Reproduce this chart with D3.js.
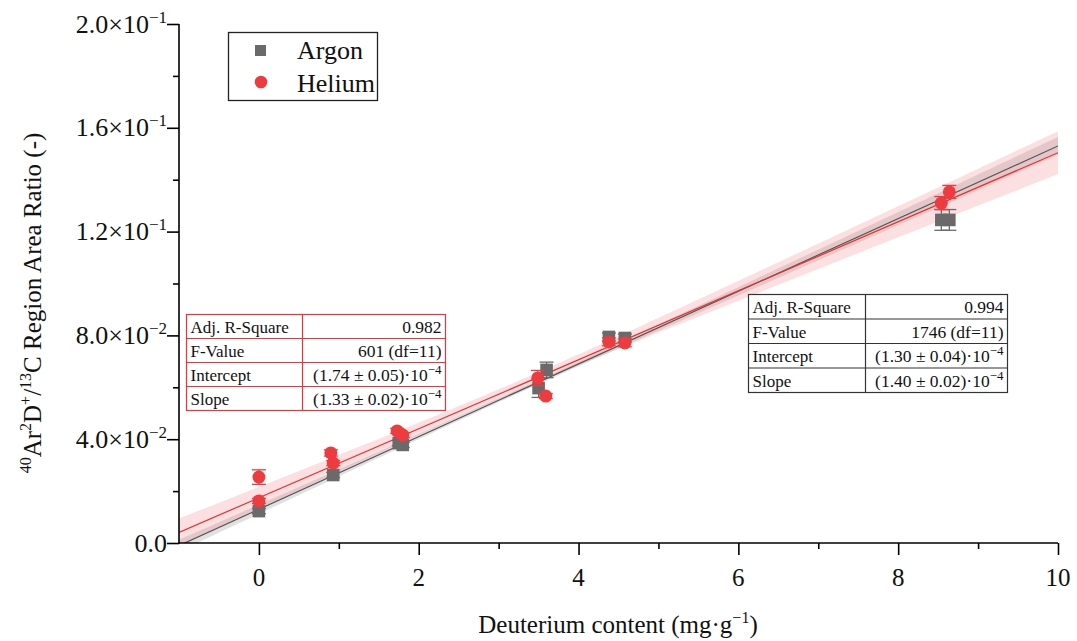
<!DOCTYPE html>
<html>
<head>
<meta charset="utf-8">
<script src="https://cdn.jsdelivr.net/npm/d3@7"></script>
<style>
  html, body { margin: 0; padding: 0; background: #fff; }
  svg { display: block; font-family: "Liberation Serif", "Times New Roman", serif; }
</style>
</head>
<body>
<svg id="chart" width="1077" height="641"></svg>
<script>
// ---- data -------------------------------------------------------------
const argonX   = [0.00, 0.93, 1.75, 1.80, 3.50, 3.60, 4.38, 4.58, 8.54, 8.64];
const argonY   = [0.0123, 0.0262, 0.0385, 0.0378, 0.0597, 0.0667, 0.0794, 0.0790, 0.1245, 0.1245];
const argonErr = [0.0010, 0.0010, 0.0010, 0.0010, 0.0036, 0.0030, 0.0015, 0.0015, 0.0040, 0.0040];

const heliumX   = [0.00, 0.00, 0.90, 0.93, 1.73, 1.80, 3.49, 3.59, 4.38, 4.58, 8.54, 8.64];
const heliumY   = [0.0162, 0.0254, 0.0347, 0.0308, 0.0432, 0.0416, 0.0636, 0.0566, 0.0775, 0.0771, 0.1310, 0.1353];
const heliumErr = [0.0010, 0.0028, 0.0012, 0.0010, 0.0010, 0.0010, 0.0029, 0.0010, 0.0015, 0.0015, 0.0025, 0.0025];

// linear fit results (table values, in units of 10^-4)
const fitNames      = ["Argon", "Helium"];
const fitAdjR2      = ["0.994", "0.982"];
const fitF          = ["1746 (df=11)", "601 (df=11)"];
const fitIntercept  = [1.30, 1.74];
const fitInterceptE = [0.04, 0.05];
const fitSlope      = [1.40, 1.33];
const fitSlopeE     = [0.02, 0.02];
const fitToAxis     = 100 * 1e-4;   // table units -> plotted ratio units

// 95% confidence band: half-width sqrt(a^2 + b^2 (x - xc)^2)
const bandA  = [0.0008, 0.0019];
const bandB  = [0.00050, 0.00118];
const bandXc = [3.2, 3.2];

// axes
const xDomain = [-1, 10];
const yDomain = [0, 0.2];
const xTicks = [0, 2, 4, 6, 8, 10];
const xMinorTicks = [-1, 1, 3, 5, 7, 9];
const yTicks = [0, 0.04, 0.08, 0.12, 0.16, 0.20];
const yTickMantissa = ["0.0", "4.0", "8.0", "1.2", "1.6", "2.0"];
const yTickExp      = [null, "-2", "-2", "-1", "-1", "-1"];
const yMinorTicks = [0.02, 0.06, 0.10, 0.14, 0.18];

const colArgon = "#6a6a6a";
const colHelium = "#ee3b3f";

// ---- layout -----------------------------------------------------------
const svg = d3.select("#chart");
const x = d3.scaleLinear().domain(xDomain).range([179, 1058]);
const y = d3.scaleLinear().domain(yDomain).range([543, 24]);

svg.append("defs").append("clipPath").attr("id", "plotClip")
  .append("rect").attr("x", 179).attr("y", 24).attr("width", 879).attr("height", 519);

const plot = svg.append("g").attr("clip-path", "url(#plotClip)");

// confidence bands and fit lines
const bandCols = ["rgba(120,120,120,0.22)", "rgba(240,110,120,0.22)"];
const lineCols = ["#555555", "#e8302f"];
const xs = d3.range(0, 201).map(i => xDomain[0] + (xDomain[1] - xDomain[0]) * i / 200);
[0, 1].forEach(k => {
  const b0 = fitIntercept[k] * fitToAxis, b1 = fitSlope[k] * fitToAxis;
  const hw = v => Math.sqrt(bandA[k] ** 2 + (bandB[k] * (v - bandXc[k])) ** 2);
  plot.append("path")
    .datum(xs)
    .attr("fill", bandCols[k])
    .attr("d", d3.area()
      .x(v => x(v))
      .y0(v => y(b0 + b1 * v - hw(v)))
      .y1(v => y(b0 + b1 * v + hw(v))));
});
[0, 1].forEach(k => {
  const b0 = fitIntercept[k] * fitToAxis, b1 = fitSlope[k] * fitToAxis;
  plot.append("line")
    .attr("x1", x(xDomain[0])).attr("y1", y(b0 + b1 * xDomain[0]))
    .attr("x2", x(xDomain[1])).attr("y2", y(b0 + b1 * xDomain[1]))
    .attr("stroke", lineCols[k]).attr("stroke-width", 1.2);
});

// error bars + markers
function drawSeries(xv, yv, ev, color, kind) {
  const g = svg.append("g");
  const pts = xv.map((d, i) => ({ x: d, y: yv[i], e: ev[i] }));
  const eb = g.selectAll("g.eb").data(pts).join("g").attr("stroke", color).attr("stroke-width", 1.3);
  eb.append("line").attr("x1", d => x(d.x)).attr("x2", d => x(d.x))
    .attr("y1", d => y(d.y - d.e)).attr("y2", d => y(d.y + d.e));
  eb.append("line").attr("x1", d => x(d.x) - 7).attr("x2", d => x(d.x) + 7)
    .attr("y1", d => y(d.y - d.e)).attr("y2", d => y(d.y - d.e));
  eb.append("line").attr("x1", d => x(d.x) - 7).attr("x2", d => x(d.x) + 7)
    .attr("y1", d => y(d.y + d.e)).attr("y2", d => y(d.y + d.e));
  if (kind === "square") {
    g.selectAll("rect.m").data(pts).join("rect")
      .attr("x", d => x(d.x) - 6.3).attr("y", d => y(d.y) - 6.3)
      .attr("width", 12.6).attr("height", 12.6).attr("fill", color);
  } else {
    g.selectAll("circle.m").data(pts).join("circle")
      .attr("cx", d => x(d.x)).attr("cy", d => y(d.y)).attr("r", 6.5).attr("fill", color);
  }
}
drawSeries(argonX, argonY, argonErr, colArgon, "square");
drawSeries(heliumX, heliumY, heliumErr, colHelium, "circle");

// ---- axes -------------------------------------------------------------
const axisG = svg.append("g").attr("stroke", "#000").attr("stroke-width", 1.6);
axisG.append("line").attr("x1", 179).attr("x2", 179).attr("y1", y(0.2)).attr("y2", y(0) + 0.8);
axisG.append("line").attr("x1", 178.2).attr("x2", x(10)).attr("y1", y(0)).attr("y2", y(0));

const yAxis = svg.append("g").attr("transform", "translate(179,0)")
  .call(d3.axisLeft(y).tickValues(yTicks).tickSize(12).tickFormat(""));
const yMinor = svg.append("g").attr("transform", "translate(179,0)")
  .call(d3.axisLeft(y).tickValues(yMinorTicks).tickSize(6).tickFormat(""));
const xAxis = svg.append("g").attr("transform", `translate(0,${y(0)})`)
  .call(d3.axisBottom(x).tickValues(xTicks).tickSize(12).tickFormat(""));
const xMinor = svg.append("g").attr("transform", `translate(0,${y(0)})`)
  .call(d3.axisBottom(x).tickValues(xMinorTicks.filter(v => v > xDomain[0])).tickSize(6).tickFormat(""));
[yAxis, yMinor, xAxis, xMinor].forEach(a => {
  a.select(".domain").remove();
  a.selectAll("line").attr("stroke", "#000").attr("stroke-width", 1.6);
});

// y tick labels with scientific notation
yTicks.forEach((v, i) => {
  const t = svg.append("text")
    .attr("x", 167).attr("y", y(v) + 8.5)
    .attr("text-anchor", "end").attr("font-size", 26).attr("fill", "#111");
  if (yTickExp[i] === null) {
    t.text(yTickMantissa[i]);
  } else {
    t.append("tspan").text(yTickMantissa[i] + "\u00d710");
    t.append("tspan").attr("font-size", 17).attr("dy", -10).text(yTickExp[i].replace("-", "\u2212"));
  }
});

// x tick labels
xTicks.forEach(v => {
  svg.append("text").attr("x", x(v)).attr("y", 586)
    .attr("text-anchor", "middle").attr("font-size", 25).attr("fill", "#111").text(v);
});

// axis titles
const xt = svg.append("text").attr("x", 618).attr("y", 633)
  .attr("text-anchor", "middle").attr("font-size", 25).attr("fill", "#111");
xt.append("tspan").text("Deuterium content (mg\u00b7g");
xt.append("tspan").attr("font-size", 16).attr("dy", -10).text("\u22121");
xt.append("tspan").attr("dy", 10).text(")");

const yt = svg.append("text")
  .attr("transform", "translate(41,303) rotate(-90)")
  .attr("text-anchor", "middle").attr("font-size", 25).attr("fill", "#111");
const yParts = [["40", true], ["Ar", false], ["2", true], ["D", false], ["+", true], ["/", false], ["13", true], ["C Region Area Ratio (-)", false]];
let raised = false;
yParts.forEach(([s, sup]) => {
  const ts = yt.append("tspan").text(s);
  if (sup) { ts.attr("font-size", 16); if (!raised) { ts.attr("dy", -10); raised = true; } }
  else if (raised) { ts.attr("dy", 10); raised = false; }
});

// ---- legend -----------------------------------------------------------
const lg = svg.append("g");
lg.append("rect").attr("x", 228.5).attr("y", 32.5).attr("width", 149).attr("height", 68)
  .attr("fill", "#fff").attr("stroke", "#222").attr("stroke-width", 1.3);
lg.append("rect").attr("x", 255).attr("y", 45).attr("width", 11).attr("height", 11).attr("fill", colArgon);
lg.append("circle").attr("cx", 261).attr("cy", 82).attr("r", 6.3).attr("fill", colHelium);
lg.append("text").attr("x", 297).attr("y", 59).attr("font-size", 26).attr("fill", "#111").text(fitNames[0]);
lg.append("text").attr("x", 297).attr("y", 92).attr("font-size", 26).attr("fill", "#111").text(fitNames[1]);

// ---- fit statistics tables ---------------------------------------------
function fitTable(k, x0, y0, w, c1, rowH, stroke) {
  const g = svg.append("g");
  const h = rowH * 4;
  g.append("rect").attr("x", x0).attr("y", y0).attr("width", w).attr("height", h)
    .attr("fill", "#fff").attr("stroke", stroke).attr("stroke-width", 1.2);
  for (let r = 1; r < 4; r++) {
    g.append("line").attr("x1", x0).attr("x2", x0 + w)
      .attr("y1", y0 + r * rowH).attr("y2", y0 + r * rowH).attr("stroke", stroke).attr("stroke-width", 1.2);
  }
  g.append("line").attr("x1", x0 + c1).attr("x2", x0 + c1).attr("y1", y0).attr("y2", y0 + h)
    .attr("stroke", stroke).attr("stroke-width", 1.2);
  const labels = ["Adj. R-Square", "F-Value", "Intercept", "Slope"];
  labels.forEach((s, r) => {
    g.append("text").attr("x", x0 + 4).attr("y", y0 + r * rowH + rowH - 6)
      .attr("font-size", 17).attr("fill", "#111").text(s);
  });
  const right = (r) => g.append("text").attr("x", x0 + w - 4).attr("y", y0 + r * rowH + rowH - 6)
    .attr("text-anchor", "end").attr("font-size", 17.5).attr("fill", "#111");
  right(0).text(fitAdjR2[k]);
  right(1).text(fitF[k]);
  [[fitIntercept[k], fitInterceptE[k]], [fitSlope[k], fitSlopeE[k]]].forEach(([v, e], j) => {
    const t = right(2 + j);
    t.append("tspan").text(`(${v.toFixed(2)} \u00b1 ${e.toFixed(2)})\u00b710`);
    t.append("tspan").attr("font-size", 13).attr("dy", -7).text("\u22124");
  });
}
fitTable(1, 186.5, 314.5, 259, 116, 24, "#e8343a");
fitTable(0, 748.5, 294.5, 259, 117, 24.5, "#333");
</script>
</body>
</html>
